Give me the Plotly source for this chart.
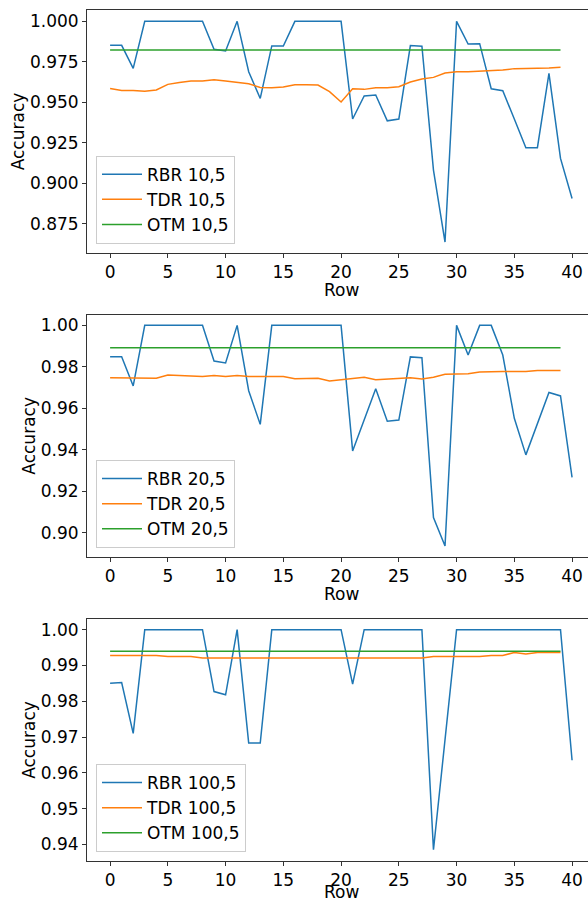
import plotly.graph_objects as go

rows_rbr = list(range(41))
rows_tdr = list(range(40))

rbr_10 = [0.9852, 0.9852, 0.9710, 1.0, 1.0, 1.0, 1.0, 1.0, 1.0, 0.9827, 0.9817,
          1.0, 0.9689, 0.9524, 0.9848, 0.9848, 1.0, 1.0, 1.0, 1.0, 1.0,
          0.9397, 0.9539, 0.9545, 0.9386, 0.9397, 0.9850, 0.9846, 0.9082, 0.8638,
          1.0, 0.9860, 0.9862, 0.9584, 0.9572, 0.9397, 0.9220, 0.9220, 0.9679, 0.9154, 0.8907]
tdr_10 = [0.9586, 0.9573, 0.9573, 0.9569, 0.9576, 0.9611, 0.9623, 0.9631, 0.9631, 0.9640,
          0.9631, 0.9621, 0.9615, 0.9592, 0.9590, 0.9594, 0.9609, 0.9609, 0.9607, 0.9566,
          0.9502, 0.9584, 0.9580, 0.9590, 0.9590, 0.9596, 0.9625, 0.9644, 0.9654, 0.9681,
          0.9689, 0.9689, 0.9693, 0.9699, 0.9699, 0.9708, 0.9708, 0.9712, 0.9712, 0.9716]
otm_10 = [0.9823] * 40

rbr_20 = [0.9849, 0.9849, 0.9708, 1.0, 1.0, 1.0, 1.0, 1.0, 1.0, 0.9828, 0.9819,
          1.0, 0.9685, 0.9523, 1.0, 1.0, 1.0, 1.0, 1.0, 1.0, 1.0,
          0.9395, 0.9541, 0.9695, 0.9538, 0.9544, 0.9848, 0.9844, 0.9074, 0.8937,
          1.0, 0.9857, 1.0, 1.0, 0.9857, 0.9552, 0.9376, 0.9528, 0.9677, 0.9660, 0.9268]
tdr_20 = [0.9748, 0.9748, 0.9748, 0.9745, 0.9745, 0.9761, 0.9758, 0.9754, 0.9754, 0.9758,
          0.9754, 0.9758, 0.9754, 0.9754, 0.9754, 0.9754, 0.9743, 0.9743, 0.9745, 0.9732,
          0.9738, 0.9742, 0.9750, 0.9738, 0.9742, 0.9745, 0.9748, 0.9742, 0.9750, 0.9764,
          0.9767, 0.9767, 0.9775, 0.9778, 0.9778, 0.9778, 0.9778, 0.9782, 0.9782, 0.9782]
otm_20 = [0.9892] * 40

rbr_100 = [0.9850, 0.9852, 0.9710, 1.0, 1.0, 1.0, 1.0, 1.0, 1.0, 0.9827, 0.9818,
           1.0, 0.9683, 0.9683, 1.0, 1.0, 1.0, 1.0, 1.0, 1.0, 1.0,
           0.9848, 1.0, 1.0, 1.0, 1.0, 1.0, 1.0, 0.9385, 0.9690,
           1.0, 1.0, 1.0, 1.0, 1.0, 1.0, 1.0, 1.0, 1.0, 1.0, 0.9635]
tdr_100 = [0.9928, 0.9928, 0.9928, 0.9928, 0.9928, 0.9925, 0.9925, 0.9925, 0.9921, 0.9921,
           0.9921, 0.9921, 0.9921, 0.9921, 0.9921, 0.9921, 0.9921, 0.9921, 0.9921, 0.9921,
           0.9921, 0.9921, 0.9921, 0.9921, 0.9921, 0.9921, 0.9921, 0.9921, 0.9925, 0.9925,
           0.9925, 0.9925, 0.9925, 0.9928, 0.9928, 0.9936, 0.9932, 0.9936, 0.9936, 0.9936]
otm_100 = [0.9940] * 40

panel_labels = ["10,5", "20,5", "100,5"]
ytick_sets = [
    [0.875, 0.900, 0.925, 0.950, 0.975, 1.000],
    [0.90, 0.92, 0.94, 0.96, 0.98, 1.00],
    [0.94, 0.95, 0.96, 0.97, 0.98, 0.99, 1.00],
]
ytick_fmt = [".3f", ".2f", ".2f"]
y_ranges = [[0.8572, 1.0068], [0.8884, 1.00514], [0.93535, 1.00298]]
xticks = [0, 5, 10, 15, 20, 25, 30, 35, 40]
x_title = "Row"
y_title = "Accuracy"

series = [(rbr_10, tdr_10, otm_10), (rbr_20, tdr_20, otm_20), (rbr_100, tdr_100, otm_100)]

colors = ["#1f77b4", "#ff7f0e", "#2ca02c"]
FONT = "DejaVu Sans"
FS = 17

H = 901
mt, mb = 10, 40
ph = H - mt - mb
panels_px = [(10.3, 252.7), (314.7, 557.0), (619.0, 861.0)]
def dom(top, bot):
    return [(H - mb - bot) / ph, min(1.0, (H - mb - top) / ph)]
def py(px):
    return (H - mb - px) / ph

fig = go.Figure()
legend_names = ["legend", "legend2", "legend3"]

for i, (rbr, tdr, otm) in enumerate(series):
    xa = "x" if i == 0 else f"x{i+1}"
    ya = "y" if i == 0 else f"y{i+1}"
    lg = legend_names[i]
    fig.add_trace(go.Scatter(x=rows_rbr, y=rbr, mode="lines", name=f"RBR {panel_labels[i]}",
                             line=dict(color=colors[0], width=1.5), xaxis=xa, yaxis=ya, legend=lg))
    fig.add_trace(go.Scatter(x=rows_tdr, y=tdr, mode="lines", name=f"TDR {panel_labels[i]}",
                             line=dict(color=colors[1], width=1.5), xaxis=xa, yaxis=ya, legend=lg))
    fig.add_trace(go.Scatter(x=rows_tdr, y=otm, mode="lines", name=f"OTM {panel_labels[i]}",
                             line=dict(color=colors[2], width=1.5), xaxis=xa, yaxis=ya, legend=lg))

layout = dict(
    width=588, height=H,
    margin=dict(l=87, r=0, t=mt, b=mb),
    plot_bgcolor="white", paper_bgcolor="white",
    font=dict(family=FONT, size=FS, color="black"),
)
annotations = []
for i in range(3):
    top, bot = panels_px[i]
    d = dom(top, bot)
    xk = "xaxis" if i == 0 else f"xaxis{i+1}"
    yk = "yaxis" if i == 0 else f"yaxis{i+1}"
    layout[xk] = dict(
        domain=[0, 1], anchor="y" if i == 0 else f"y{i+1}",
        range=[-2, 41.38], tickvals=xticks, ticks="outside", ticklen=4, tickwidth=1,
        tickcolor="#333", showline=True, linecolor="#333", linewidth=1, mirror=True,
        showgrid=False, zeroline=False,
        tickfont=dict(size=FS),
    )
    layout[yk] = dict(
        domain=d, anchor="x" if i == 0 else f"x{i+1}",
        range=y_ranges[i], tickvals=ytick_sets[i], tickformat=ytick_fmt[i],
        ticks="outside", ticklen=4, tickwidth=1, tickcolor="#333",
        showline=True, linecolor="#333", linewidth=1, showgrid=False, zeroline=False,
        title=dict(text=y_title, standoff=0, font=dict(size=FS)),
        tickfont=dict(size=FS),
    )
    annotations.append(dict(
        text=x_title, xref="paper", yref="paper",
        x=(341 - 87) / 501, y=py(min(bot + 37, 892)),
        xanchor="center", yanchor="middle", showarrow=False,
        font=dict(size=FS),
    ))
    lk = legend_names[i]
    layout[lk] = dict(
        x=(96 - 87) / 501, xanchor="left",
        y=py(bot - 9), yanchor="bottom",
        bgcolor="rgba(255,255,255,0.8)", bordercolor="#cccccc", borderwidth=1,
        font=dict(size=FS), tracegroupgap=0, itemwidth=40,
    )
layout["annotations"] = annotations

fig.update_layout(**layout)
fig.write_html("out.html", config={"displayModeBar": False},
               post_script="document.body.style.margin='0';document.body.style.overflow='hidden';")
